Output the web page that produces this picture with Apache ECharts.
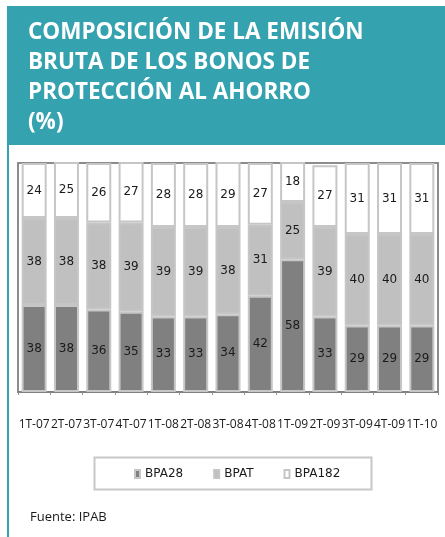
<!DOCTYPE html>
<html>
<head>
<meta charset="utf-8">
<script src="https://cdn.jsdelivr.net/npm/echarts@6/dist/echarts.min.js"></script>
<style>
  html, body { margin: 0; padding: 0; background: #ffffff; }
  #chart { width: 445px; height: 537px; }
</style>
</head>
<body>
<div id="chart"></div>
<script>
// Quarterly issuance periods
const quarters = ['1T-07', '2T-07', '3T-07', '4T-07', '1T-08', '2T-08', '3T-08',
                  '4T-08', '1T-09', '2T-09', '3T-09', '4T-09', '1T-10'];

// Share of gross issuance by bond type (%)
const bpa28  = [38, 38, 36, 35, 33, 33, 34, 42, 58, 33, 29, 29, 29];
const bpat   = [38, 38, 38, 39, 39, 39, 38, 31, 25, 39, 40, 40, 40];
const bpa182 = [24, 25, 26, 27, 28, 28, 29, 27, 18, 27, 31, 31, 31];

const seriesNames = ['BPA28', 'BPAT', 'BPA182'];

const titleText = 'COMPOSICIÓN DE LA EMISIÓN\nBRUTA DE LOS BONOS DE\nPROTECCIÓN AL AHORRO\n(%)';
const sourceText = 'Fuente: IPAB';

const TEAL = '#35a2b0';
const chart = echarts.init(document.getElementById('chart'), null, { renderer: 'canvas' });

function barSeries(name, data, color) {
  return {
    name: name,
    type: 'bar',
    stack: 'total',
    data: data,
    barWidth: 25,
    itemStyle: { color: color, borderColor: '#c6c6c6', borderWidth: 2 },
    label: {
      show: true,
      position: 'inside',
      color: '#1a1a1a',
      textBorderWidth: 0,
      fontFamily: 'DejaVu Sans',
      fontSize: 12
    },
    emphasis: { disabled: true }
  };
}

chart.setOption({
  backgroundColor: '#ffffff',
  animation: false,
  graphic: [
    { type: 'rect', left: 7, top: 6, shape: { width: 438, height: 139 }, style: { fill: TEAL }, silent: true },
    { type: 'rect', left: 7, top: 145, shape: { width: 2, height: 392 }, style: { fill: TEAL }, silent: true },
    {
      type: 'text', left: 28, top: 18,
      style: {
        text: titleText, fill: '#ffffff',
        font: 'bold 22.5px "Open Sans"', lineHeight: 30
      },
      silent: true
    },
    {
      type: 'rect', left: 92, top: 455,
      shape: { width: 277, height: 32 },
      style: { fill: 'none', stroke: '#c8c8c8', lineWidth: 2 },
      silent: true
    },
    {
      type: 'text', left: 30, top: 511,
      style: { text: sourceText, fill: '#1a1a1a', font: '13px "Open Sans"' },
      silent: true
    }
  ],
  legend: {
    data: seriesNames,
    left: 129,
    top: 463,
    icon: 'rect',
    itemWidth: 5,
    itemHeight: 8,
    itemGap: 30,
    textStyle: { fontFamily: 'DejaVu Sans', fontSize: 12, color: '#1a1a1a' },
    selectedMode: false
  },
  grid: {
    left: 18, right: 7, top: 163, bottom: 145,
    show: true, borderColor: '#8c8c8c', borderWidth: 2,
    containLabel: false
  },
  xAxis: {
    type: 'category',
    data: quarters,
    axisLine: { lineStyle: { color: '#808080', width: 2 } },
    axisTick: { show: true, length: 3, lineStyle: { color: '#909090', width: 1 } },
    axisLabel: {
      interval: 0, margin: 27, hideOverlap: false,
      fontFamily: 'Open Sans', fontSize: 12, color: '#1a1a1a'
    }
  },
  yAxis: {
    type: 'value', min: 0, max: 100,
    show: false,
    splitLine: { show: false }
  },
  series: [
    barSeries(seriesNames[0], bpa28, '#808080'),
    barSeries(seriesNames[1], bpat, '#c0c0c0'),
    barSeries(seriesNames[2], bpa182, '#ffffff')
  ]
});
</script>
</body>
</html>
